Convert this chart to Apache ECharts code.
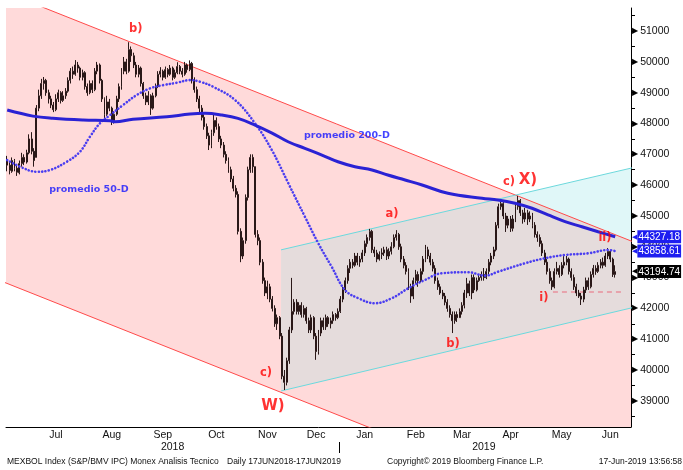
<!DOCTYPE html>
<html><head><meta charset="utf-8">
<script src="https://cdn.jsdelivr.net/npm/echarts@6/dist/echarts.min.js"></script>
<style>html,body{margin:0;padding:0;background:#fff}#c{width:683px;height:470px}</style>
</head><body><div id="c"></div>
<script>
// ---- DATA ----
// daily candles [open, close, low, high], MEXBOL, 18-Jun-2018 .. 17-Jun-2019 (BMV trading days)
const ohlc = [
[46800,46650,46450,46950],[46650,46480,46350,46750],[46450,46800,46400,46900],[46800,46550,46450,46850],[46550,46420,46300,46650],
[46400,46700,46350,46800],[46700,46900,46600,47050],[46900,46750,46650,47000],[46750,47050,46700,47150],[47050,47500,47000,47650],
[47500,47100,47000,47720],[47100,46800,46600,47200],[46900,48500,46900,48600],[48500,48900,48400,49100],[48900,49300,48800,49450],
[49300,49400,49100,49510],[49400,49000,48900,49450],[49000,48800,48650,49100],[48800,48600,48500,48900],[48600,48450,48370,48700],
[48450,48800,48400,48950],[48800,49000,48700,49100],[49000,48750,48650,49050],[48750,48900,48700,49050],[48900,49050,48800,49150],
[49050,49400,49000,49500],[49400,49700,49300,49800],[49700,49600,49450,49850],[49600,49900,49550,50060],[49900,49800,49650,50000],
[49800,49500,49400,49850],[49500,49650,49400,49750],[49650,49200,49100,49700],[49200,49000,48900,49300],[49000,49300,48950,49400],
[49300,49100,48990,49400],[49100,49700,49050,49800],[49700,49900,49600,50000],[49900,49400,49300,49950],[49400,48800,48700,49450],
[48800,48300,48180,48850],[48300,48700,48250,48900],[48700,48500,48400,48800],[48500,48100,47950,48550],[48100,48300,48000,48400],
[48300,48800,48250,48900],[48800,49200,48700,49300],[49200,49700,49100,49800],[49700,50000,49600,50160],[50000,49700,49600,50100],
[49700,50400,49650,50640],[50400,50200,50000,50500],[50200,49900,49800,50300],[49900,49600,49500,50000],[49600,49800,49500,49900],
[49800,49300,49200,49850],[49300,48900,48800,49350],[48900,48700,48600,49000],[48700,48900,48600,49050],[48900,48500,48280,48950],
[48500,48900,48450,49000],[48900,49200,48850,49300],[49200,49600,49150,49700],[49600,49700,49500,49830],[49700,49500,49400,49750],
[49500,49750,49450,49850],[49750,49600,49500,49800],[49600,49800,49550,49900],[49800,49500,49400,49850],[49500,49650,49450,49750],
[49650,49850,49600,49990],[49850,49700,49600,49900],[49700,49600,49500,49800],[49600,49900,49550,50000],[49900,49750,49650,49950],
[49750,49950,49700,50050],[49950,49400,49300,50000],[49400,49100,49000,49500],[49100,48800,48700,49200],[48800,48500,48350,48900],
[48500,48200,48100,48600],[48200,47900,47800,48300],[47900,47600,47500,48000],[47600,47300,47140,47700],[47300,47700,47200,47800],
[47700,48100,47600,48340],[48100,47900,47800,48200],[47900,47500,47400,48000],[47500,47300,47200,47600],[47300,47000,46900,47400],
[47000,46800,46700,47100],[46800,46500,46400,46900],[46500,46200,46100,46600],[46200,45900,45800,46300],[45900,45700,45600,46000],
[45700,44500,44400,45800],[44500,43700,43500,44600],[43700,44200,43600,44300],[44200,45600,44100,45700],[45600,46500,45500,46600],
[46500,46900,46400,47000],[46900,46600,46400,47000],[46600,44400,44300,46600],[44400,44200,44050,44540],[44200,43500,43400,44300],
[43500,42900,42800,43600],[42900,42500,42400,43000],[42500,42700,42300,42900],[42700,42300,42200,42800],[42300,42000,41900,42400],
[42000,41500,41400,42100],[41500,41700,41300,41800],[41700,41100,41000,41750],[41100,39800,39700,41200],[39800,39600,39350,40000],
[39600,40300,39500,40400],[40300,41300,40200,41400],[41300,41900,41200,42990],[41900,42200,41800,42300],[42200,41900,41800,42300],
[41900,42100,41800,42200],[42100,41800,41700,42200],[41800,42000,41700,42100],[42000,41600,41500,42050],[41600,41300,41200,41700],
[41300,41700,41200,41800],[41700,41100,41000,41750],[41100,40600,40330,41200],[40600,41200,40500,41300],[41200,41600,41100,41700],
[41600,41400,41300,41700],[41400,41700,41300,41800],[41700,41500,41400,41750],[41500,41600,41350,41700],[41600,41800,41500,41900],
[41800,41700,41600,41850],[41700,41900,41650,42000],[41900,42300,41850,42400],[42300,42600,42200,42700],[42600,42900,42500,43000],
[42900,43300,42800,43400],[43300,43500,43150,43600],[43500,43400,43300,43600],[43400,43700,43350,43800],[43700,43500,43400,43800],
[43500,43600,43350,43700],[43600,43800,43500,43900],[43800,44100,43700,44200],[44100,44300,44000,44400],[44300,44500,44200,44580],
[44500,43900,43800,44550],[43900,43800,43670,44000],[43800,43600,43500,43900],[43600,43750,43550,43850],[43750,43800,43600,43950],
[43800,43900,43700,44000],[43900,43700,43570,44000],[43700,43850,43600,43950],[43850,44000,43750,44150],[44000,44300,43950,44400],
[44300,44400,44200,44540],[44400,44000,43900,44450],[44000,43600,43500,44100],[43600,43400,43300,43700],[43400,43200,43100,43500],
[43200,42700,42600,43300],[42700,42400,42180,42800],[42400,42900,42300,43000],[42900,43100,42800,43250],[43100,42900,42700,43200],
[42900,43200,42850,43300],[43200,43600,43100,43700],[43600,43900,43500,44060],[43900,43700,43600,44000],[43700,43500,43400,43800],
[43500,43300,43200,43600],[43300,42900,42800,43400],[42900,42700,42600,43000],[42700,42500,42440,42800],[42500,42400,42300,42600],
[42400,42200,42100,42500],[42200,42000,41890,42300],[42000,41800,41700,42100],[41800,41600,41200,41900],[41600,41800,41500,41900],
[41800,41700,41560,41900],[41700,41900,41690,42000],[41900,42100,41800,42200],[42100,42500,42000,42600],[42500,42800,42340,42990],
[42800,42500,42400,42900],[42500,43000,42300,43100],[43000,42600,42500,43100],[42600,42900,42550,43000],[42900,43000,42860,43100],
[43000,43100,42900,43200],[43100,43000,42900,43310],[43000,43200,42950,43300],[43200,43500,43100,43600],[43500,43700,43400,43800],
[43700,43900,43600,44000],[43900,44700,43850,44800],[44700,45300,44600,45400],[45300,45400,45200,45520],[45400,45000,44900,45450],
[45000,44700,44480,45100],[44700,44900,44600,45000],[44900,44600,44480,45000],[44600,44900,44500,45030],[44900,45300,44800,45400],
[45300,45500,45200,45650],[45500,45100,45000,45550],[45100,44900,44750,45200],[44900,45100,44800,45260],[45100,44900,44710,45200],
[44900,45000,44800,45150],[45000,44700,44600,45100],[44700,44400,44300,44800],[44400,44300,44160,44500],[44300,44100,44000,44400],
[44100,43800,43700,44200],[43800,43500,43410,43900],[43500,43200,43100,43600],[43200,42900,42800,43300],[42900,42700,42600,43000],
[42700,43200,42650,43300],[43200,43300,43100,43510],[43300,43100,43000,43400],[43100,43400,43050,43500],[43400,43500,43300,43730],
[43500,43600,43400,43700],[43600,43200,43100,43650],[43200,43000,42900,43300],[43000,42700,42600,43100],[42700,42500,42400,42800],
[42500,42400,42340,42600],[42400,42300,42110,42500],[42300,42600,42200,42700],[42600,42900,42500,43000],[42900,42700,42600,43000],
[42700,43100,42650,43200],[43100,43300,43000,43410],[43300,43200,43090,43400],[43200,43400,43150,43500],[43400,43500,43300,43600],
[43500,43400,43300,43650],[43400,43700,43350,43800],[43700,43850,43600,43960],[43850,43600,43500,43900],[43600,43100,43020,43650],
[43100,43194.74,43000,43400]
];
// moving averages: [trading-day index, value]
const ma200 = [[0,48437],[10.6,48240],[18.8,48168],[31.2,48113],[42.3,48090],[44.3,48058],[51.7,48136],[65.7,48220],[75.2,48308],
[81.3,48330],[88.3,48275],[94.9,48168],[101.9,47951],[108.9,47691],[115.5,47409],[122.4,47195],[129.4,46977],[136,46760],
[143,46598],[150,46491],[156.5,46329],[163.6,46167],[170.6,46005],[181.2,45735],[195.2,45573],[201.8,45518],[208.8,45411],
[215.8,45249],[222.4,45032],[229.4,44815],[236.3,44651],[243,44489],[250,44327.18]];
const ma50 = [[0,46815],[5.3,46598],[12.1,46436],[17.6,46491],[24.5,46760],[29.9,47084],[34,47571],[38.1,48006],[42.3,48275],
[47.6,48599],[53.2,48924],[58.7,49141],[64.2,49248],[69.7,49323],[75.2,49410],[79.3,49355],[84.7,49193],[93.7,48762],
[101.9,48006],[108.8,47140],[115.6,46059],[122.4,44976],[127.9,44113],[133.4,43354],[138.9,42598],[144.4,42329],[151.2,42167],
[158.1,42329],[164.9,42653],[171.8,42924],[178.7,43140],[189.6,43172],[196.5,43062],[201.9,43192],[212.9,43465],[221.1,43627],
[229.3,43734],[239,43789],[247.2,43896],[250,43858.61]];
// technical-analysis lines [index, value]
const redUpper = [[-1,52264],[258,44142]];
const redLower = [[-1,42840],[258,34710]];
const cyanLower = [[112.6,39320],[258,42040]];
const cyanUpper = [[112.6,43900],[258,46580]];
const supportLine = [[224.4,42530],[254,42530]];
const lastValues = [44327.18, 43858.61, 43194.74];
const annotations = [
 [52.9,51065,'b)'],[139.7,47626,'promedio 200-D'],[33.6,45842,'promedio 50-D'],[206.3,46102,'c)'],[214.1,46166,'X)'],
 [158.2,45063,'a)'],[106.4,39906,'c)'],[109.3,38835,'W)'],[183.3,40846,'b)'],[220.7,42339,'i)'],[245.8,44285,'ii)']
];
const holidays = ['2018-11-02','2018-11-19','2018-12-12','2018-12-25','2019-01-01','2019-02-04','2019-03-18','2019-04-18','2019-04-19','2019-05-01'];
const firstDay = '2018-06-18';
const padDays = 6;
const monthNames = ['Jan','Feb','Mar','Apr','May','Jun','Jul','Aug','Sep','Oct','Nov','Dec'];

// ---- BUILD ----
function buildDates(start, n){
  const out=[]; let t=Date.parse(start+'T00:00:00Z');
  while(out.length<n){const d=new Date(t);const w=d.getUTCDay();const s=d.toISOString().slice(0,10);
    if(w!==0&&w!==6&&holidays.indexOf(s)<0) out.push(s); t+=86400000;}
  return out;
}
const dates = buildDates(firstDay, ohlc.length+padDays);
const N = dates.length;
const monthStart = new Set(), monthMid = new Set(), yearMid = new Set(), yearStart = [];
(function(){
  let gs=0;
  for(let i=1;i<=N;i++){
    if(i===N || dates[i].slice(0,7)!==dates[i-1].slice(0,7)){
      if(gs>0){monthStart.add(gs); monthMid.add(Math.floor((gs+i-1)/2));}
      gs=i;
    }
  }
  gs=0;
  for(let i=1;i<=N;i++){
    if(i===N || dates[i].slice(0,4)!==dates[i-1].slice(0,4)){
      yearMid.add(Math.floor((gs+i-1)/2)); if(i<N) yearStart.push(i); gs=i;
    }
  }
})();
function lineAt(l,x){return l[0][1]+(l[1][1]-l[0][1])*(x-l[0][0])/(l[1][0]-l[0][0]);}
function intersect(a,b){
  const sa=(a[1][1]-a[0][1])/(a[1][0]-a[0][0]), sb=(b[1][1]-b[0][1])/(b[1][0]-b[0][0]);
  const x=(b[0][1]-sb*b[0][0]-a[0][1]+sa*a[0][0])/(sa-sb); return [x,lineAt(a,x)];
}
const xEnd = redUpper[1][0];
const polygons = [
  [redUpper[0],redUpper[1],redLower[1],redLower[0]],
  [cyanLower[0],cyanLower[1],cyanUpper[1],cyanUpper[0]],
  [cyanLower[0],cyanLower[1],[xEnd,lineAt(redUpper,xEnd)],intersect(redUpper,cyanUpper),cyanUpper[0]]
];
const polyFill = ['#ffdada','#e0f7f8','#e5dcdc'];

const FONT = 'Liberation Sans';
const CLEAR = 'rgba(0,0,0,0)';
const chart = echarts.init(document.getElementById('c'), null, {renderer:'canvas'});
const tagColors = ['#1e1ef0','#1e1ef0','#000000'];
const footFont = '8.5px "Liberation Sans"';
const option = {
  animation:false,
  backgroundColor:'#ffffff',
  grid:{left:6,right:52,top:8,bottom:43,containLabel:false},
  xAxis:[
    {type:'category',data:dates,boundaryGap:true,position:'bottom',
     axisLine:{onZero:false,lineStyle:{color:'#000',width:1}},
     axisTick:{alignWithLabel:true,interval:(i)=>monthStart.has(i),length:4,lineStyle:{color:'#000'}},
     axisLabel:{interval:(i)=>monthMid.has(i),formatter:(v)=>monthNames[+v.slice(5,7)-1],color:'#111',fontFamily:FONT,fontSize:10.5,margin:3},
     splitLine:{show:false}},
    {type:'category',data:dates,boundaryGap:true,position:'bottom',offset:13,
     axisLine:{show:false,onZero:false},axisTick:{show:false},
     axisLabel:{interval:(i)=>yearMid.has(i),formatter:(v)=>v.slice(0,4),color:'#111',fontFamily:FONT,fontSize:10.5,margin:2},
     splitLine:{show:false}},
    {type:'value',min:-0.5,max:N-0.5,show:false,axisLine:{onZero:false}}
  ],
  yAxis:[{type:'value',position:'right',min:38150,max:51750,splitNumber:27,scale:true,
    axisLine:{show:true,onZero:false,lineStyle:{color:'#000'}},
    axisTick:{show:true,length:4,lineStyle:{color:'#000'}},
    splitLine:{show:false},
    axisLabel:{margin:1,color:'#111',fontFamily:FONT,fontSize:10.5,showMinLabel:false,showMaxLabel:false,
      formatter:(v)=> (Math.round(v)%1000===0 && v>38150 && v<51750) ? '{t|▶}{v|'+Math.round(v)+'}' : '',
      rich:{t:{fontSize:8,color:'#000',fontFamily:'DejaVu Sans'},v:{fontSize:10.5,color:'#111',fontFamily:FONT,padding:[0,0,0,2]}}}
  }],
  series:[
    {type:'custom',xAxisIndex:2,yAxisIndex:0,silent:true,clip:true,z:1,
     data:polygons.map((p,i)=>[i,40000]),
     renderItem:(params,api)=>{const i=params.dataIndex;
       return {type:'polygon',shape:{points:polygons[i].map(p=>api.coord(p))},style:{fill:polyFill[i]}};}},
    {type:'line',xAxisIndex:2,data:redUpper,showSymbol:false,silent:true,z:2,lineStyle:{color:'#ff4a4a',width:1}},
    {type:'line',xAxisIndex:2,data:redLower,showSymbol:false,silent:true,z:2,lineStyle:{color:'#ff4a4a',width:1}},
    {type:'line',xAxisIndex:2,data:cyanLower,showSymbol:false,silent:true,z:2,lineStyle:{color:'#6cd8dc',width:1}},
    {type:'line',xAxisIndex:2,data:cyanUpper,showSymbol:false,silent:true,z:2,lineStyle:{color:'#6cd8dc',width:1}},
    {type:'line',xAxisIndex:2,data:supportLine,showSymbol:false,silent:true,z:2,lineStyle:{color:'#e8909c',width:1.5,type:[5,4]}},
    {type:'candlestick',xAxisIndex:0,yAxisIndex:0,data:ohlc,barWidth:'60%',z:3,silent:true,
     itemStyle:{color:'#e6dede',color0:'#2a1818',borderColor:'#2a1818',borderColor0:'#2a1818',borderWidth:1}},
    {type:'line',xAxisIndex:2,data:ma50,smooth:0.4,showSymbol:false,silent:true,z:4,
     lineStyle:{color:'#4b3ef0',width:2.6,type:[0.1,3.3],cap:'round'}},
    {type:'line',xAxisIndex:2,data:ma200,smooth:0.4,showSymbol:false,silent:true,z:5,
     lineStyle:{color:'#2a22d4',width:3},
     markLine:{symbol:'none',silent:true,animation:false,lineStyle:{color:CLEAR,width:0},
       data:lastValues.map((v,i)=>({yAxis:v,lineStyle:{color:CLEAR,width:0},label:{show:true,position:'end',distance:1,
         formatter:'{a|◀}{b|'+v.toFixed(2)+'}',
         rich:{a:{color:tagColors[i],fontSize:7,fontFamily:'DejaVu Sans'},
               b:{backgroundColor:tagColors[i],color:'#fff',fontSize:10,fontFamily:FONT,padding:[2,1,1,1]}}}}))}},
    {type:'scatter',xAxisIndex:2,yAxisIndex:0,symbolSize:1,itemStyle:{color:CLEAR},silent:true,z:6,
     data:annotations.map(a=>{
       const blue=a[2].indexOf('promedio')===0, big=(a[2]==='X)'||a[2]==='W)');
       return {value:[a[0],a[1]],label:{show:true,position:'inside',formatter:a[2],
         color:blue?'#1414ff':'#ff0000',fontWeight:'bold',fontFamily:'DejaVu Sans',
         fontSize:blue?9.5:(big?15:11.5)}};
     })}
  ],
  graphic:[
    {type:'text',left:7,top:457,style:{text:'MEXBOL Index (S&P/BMV IPC) Monex Analisis Tecnico',fill:'#111',font:footFont}},
    {type:'text',left:227,top:457,style:{text:'Daily 17JUN2018-17JUN2019',fill:'#111',font:footFont}},
    {type:'text',left:387,top:457,style:{text:'Copyright© 2019 Bloomberg Finance L.P.',fill:'#111',font:footFont}},
    {type:'text',right:1,top:457,style:{text:'17-Jun-2019 13:56:58',fill:'#111',font:footFont}}
  ]
};
chart.setOption(option);
// year separator mark below the month labels, at the first trading day of each new year
const band = Math.abs(chart.convertToPixel({xAxisIndex:0},dates[1]) - chart.convertToPixel({xAxisIndex:0},dates[0]));
chart.setOption({graphic: yearStart.map((idx,k)=>{
  const x = Math.round(chart.convertToPixel({xAxisIndex:0},dates[idx]) - band/2) + 0.5;
  return {id:'ysep'+k,type:'line',shape:{x1:x,y1:442,x2:x,y2:453},style:{stroke:'#000',lineWidth:1},silent:true};
})});
</script></body></html>
